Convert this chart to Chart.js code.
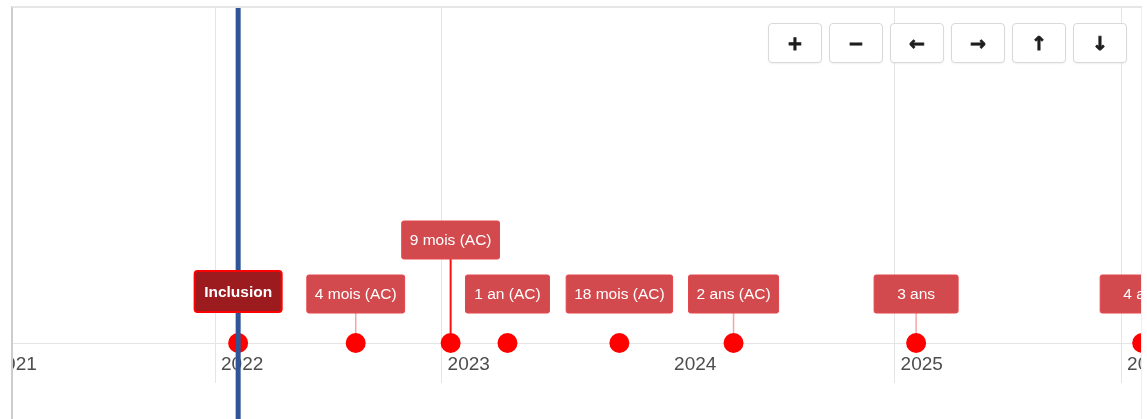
<!DOCTYPE html>
<html>
<head>
<meta charset="utf-8">
<script src="https://cdn.jsdelivr.net/npm/chart.js@4.4.1/dist/chart.umd.min.js"></script>
<style>
html, body { margin: 0; padding: 0; background: #fff; width: 1147px; height: 419px; overflow: hidden; }
#frame {
    position: absolute; left: 11px; top: 6px; width: 1131px; height: 420px;
    overflow: hidden; box-sizing: border-box; background: #fff;
    border-top: 2px solid #e6e6e6; border-left: 2px solid #cdcdcd; border-right: 1px solid #eeeeee;
}
#timeline { position: absolute; left: -41px; top: -1px; }
.nav {
    position: absolute; top: 23px; width: 52px; height: 38px;
    border: 1px solid #d9d9d9; border-radius: 4px; background: #fff;
    box-shadow: 0 1px 2px rgba(0, 0, 0, 0.06);
    display: flex; align-items: center; justify-content: center;
    font: bold 19px "DejaVu Sans", sans-serif; color: #1e1e1e;
    -webkit-text-stroke: 0.8px #1e1e1e;
}
</style>
</head>
<body>
<div id="frame">
    <canvas id="timeline" width="1220" height="412"></canvas>
</div>
<div class="nav" style="left:768px">+</div>
<div class="nav" style="left:829px">&minus;</div>
<div class="nav" style="left:890px">&larr;</div>
<div class="nav" style="left:951px">&rarr;</div>
<div class="nav" style="left:1012px">&uarr;</div>
<div class="nav" style="left:1073px">&darr;</div>
<script>
'use strict';
// timeline items (decimal years)
const eventLabels = ['Inclusion', '4 mois (AC)', '9 mois (AC)', '1 an (AC)', '18 mois (AC)', '2 ans (AC)', '3 ans', '4 ans'];
const eventDates = [2022.102, 2022.621, 2023.040, 2023.291, 2023.785, 2024.289, 2025.095, 2026.093];
const yearTicks = [2021, 2022, 2023, 2024, 2025, 2026];
const currentTime = 2022.102;

// styles
const stemColors = ['#ff1010', '#f6a5a7', '#ff1010', null, null, '#f6a5a7', '#f6a5a7', '#f6a5a7'];
const boxFont = '"Liberation Sans", Arial, sans-serif';

function layoutBoxes(chart) {
    const ctx = chart.ctx;
    const xs = chart.scales.x;
    const y0 = chart.scales.y.getPixelForValue(0);
    const placed = [];
    eventLabels.forEach((label, i) => {
        const bold = i === 0;
        ctx.font = (bold ? 'bold ' : '') + '15.5px ' + boxFont;
        const w = Math.max(84, ctx.measureText(label).width + 16) + (bold ? 3 : 0);
        const cx = xs.getPixelForValue(eventDates[i]);
        const left = cx - w / 2;
        const right = cx + w / 2;
        // stack a box one level up when it overlaps another one
        let level = 0;
        while (placed.some(p => p.level === level && p.left < right && p.right > left)) level++;
        const h = bold ? 41 : 38;
        const bottom = y0 - (bold ? 31 : 30) - level * 54;
        placed.push({label, bold, cx, left, right, w, h, level, bottom, top: bottom - h, stem: stemColors[i]});
    });
    return placed;
}

const timelinePlugin = {
    id: 'timelineBoxes',
    beforeDatasetsDraw(chart) {
        const ctx = chart.ctx;
        const y0 = chart.scales.y.getPixelForValue(0);
        ctx.save();
        // stems from box to item dot
        layoutBoxes(chart).forEach(b => {
            if (!b.stem) return;
            ctx.strokeStyle = b.stem;
            ctx.lineWidth = b.stem === '#ff1010' ? 2 : 1.5;
            ctx.beginPath();
            ctx.moveTo(b.cx, b.bottom);
            ctx.lineTo(b.cx, y0);
            ctx.stroke();
        });
        ctx.restore();
    },
    afterDatasetsDraw(chart) {
        const ctx = chart.ctx;
        const xNow = chart.scales.x.getPixelForValue(currentTime);
        ctx.save();
        // current time marker
        ctx.fillStyle = '#2f5596';
        ctx.fillRect(xNow - 2.5, 0, 5, chart.height);
        // item boxes
        layoutBoxes(chart).forEach(b => {
            ctx.beginPath();
            ctx.roundRect(b.left, b.top, b.w, b.h, b.bold ? 3 : 2);
            ctx.fillStyle = b.bold ? '#9c1b1f' : '#d34a4e';
            ctx.fill();
            ctx.lineWidth = b.bold ? 2 : 1;
            ctx.strokeStyle = b.bold ? '#ff0000' : '#e4464b';
            ctx.stroke();
            ctx.fillStyle = '#ffffff';
            ctx.font = (b.bold ? 'bold ' : '') + '15.5px ' + boxFont;
            ctx.textAlign = 'center';
            ctx.textBaseline = 'middle';
            ctx.fillText(b.label, b.cx, (b.top + b.bottom) / 2 + 1);
        });
        ctx.restore();
    }
};

const points = eventDates.map(d => ({x: d, y: 0}));

new Chart(document.getElementById('timeline').getContext('2d'), {
    type: 'scatter',
    data: {
        datasets: [{
            label: 'items',
            data: points,
            clip: false,
            pointRadius: 10,
            pointHoverRadius: 10,
            backgroundColor: '#ff0000',
            borderWidth: 0
        }]
    },
    options: {
        responsive: false,
        animation: false,
        events: [],
        layout: { padding: 0, autoPadding: false },
        plugins: { legend: { display: false }, tooltip: { enabled: false } },
        scales: {
            x: {
                type: 'linear',
                min: 2020.927,
                max: 2026.313,
                afterBuildTicks: scale => { scale.ticks = yearTicks.map(v => ({value: v})); },
                afterFit: scale => { scale.height = 76; },
                grid: {
                    // the 2024 line does not show in the original screenshot
                    color: c => (c.tick && c.tick.value === 2024 ? 'rgba(0,0,0,0)' : '#e5e5e5'),
                    drawTicks: true,
                    tickLength: 40
                },
                border: { display: true, color: '#e5e5e5', width: 1 },
                ticks: {
                    autoSkip: false,
                    maxRotation: 0,
                    align: 'start',
                    labelOffset: 6,
                    padding: -30,
                    color: '#4d4d4d',
                    font: { family: boxFont, size: 19 },
                    callback: v => String(v)
                }
            },
            y: {
                display: false,
                min: 0,
                max: 10
            }
        }
    },
    plugins: [timelinePlugin]
});
</script>
</body>
</html>
